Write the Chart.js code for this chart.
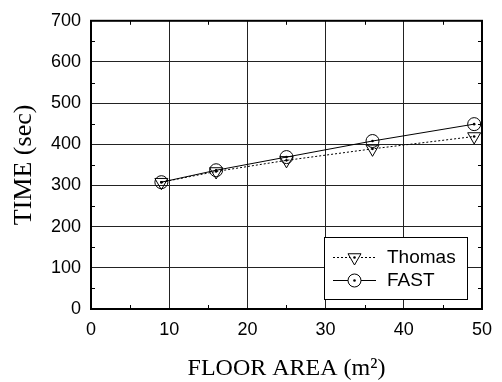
<!DOCTYPE html>
<html>
<head>
<meta charset="utf-8">
<script src="https://cdn.jsdelivr.net/npm/chart.js@4.4.0/dist/chart.umd.min.js"></script>
<style>
html,body{margin:0;padding:0;background:#fff;}
#wrap{width:502px;height:382px;position:relative;}
</style>
</head>
<body>
<div id="wrap"><canvas id="c" width="502" height="382"></canvas></div>
<script>
const floorArea = [9, 16, 25, 36, 49];
const thomasTime = [308, 334, 361, 389, 419];
const fastTime = [308, 337, 369, 408, 449];
const xTicks = [0, 10, 20, 30, 40, 50];
const yTicks = [0, 100, 200, 300, 400, 500, 600, 700];
const seriesLabels = ['Thomas', 'FAST'];

const thomasPts = floorArea.map((x, i) => ({x: x, y: thomasTime[i]}));
const fastPts = floorArea.map((x, i) => ({x: x, y: fastTime[i]}));

const decor = {
  id: 'decor',
  afterDatasetsDraw(chart) {
    const ctx = chart.ctx;
    const ca = chart.chartArea;
    const xs = chart.scales.x, ys = chart.scales.y;
    ctx.save();
    chart.data.datasets.forEach((ds, i) => {
      const meta = chart.getDatasetMeta(i);
      meta.data.forEach(el => {
        ctx.beginPath();
        ctx.fillStyle = '#000';
        ctx.arc(el.x, el.y, 1.3, 0, Math.PI * 2);
        ctx.fill();
      });
    });
    ctx.strokeStyle = '#000';
    ctx.lineWidth = 1;
    for (let v = 5; v < 50; v += 10) {
      const px = Math.round(xs.getPixelForValue(v)) + 0.5;
      ctx.beginPath();
      ctx.moveTo(px, ca.bottom); ctx.lineTo(px, ca.bottom - 4);
      ctx.moveTo(px, ca.top); ctx.lineTo(px, ca.top + 4);
      ctx.stroke();
    }
    for (let v = 50; v < 700; v += 100) {
      const py = Math.round(ys.getPixelForValue(v)) + 0.5;
      ctx.beginPath();
      ctx.moveTo(ca.left, py); ctx.lineTo(ca.left + 4, py);
      ctx.moveTo(ca.right, py); ctx.lineTo(ca.right - 4, py);
      ctx.stroke();
    }
    ctx.lineWidth = 2;
    ctx.strokeRect(ca.left, ca.top, ca.right - ca.left, ca.bottom - ca.top);
    const bx = 324.5, by = 237.5, bw = 143, bh = 62;
    ctx.lineWidth = 1;
    ctx.fillStyle = '#fff';
    ctx.fillRect(bx, by, bw, bh);
    ctx.strokeRect(bx, by, bw, bh);
    const rows = [257, 280];
    chart.data.datasets.forEach((ds, i) => {
      const yy = rows[i] + 0.5;
      ctx.beginPath();
      ctx.strokeStyle = '#000';
      ctx.lineWidth = 1;
      ctx.setLineDash(ds.borderDash || []);
      ctx.moveTo(333, yy); ctx.lineTo(376, yy);
      ctx.stroke();
      ctx.setLineDash([]);
      ctx.fillStyle = '#fff';
      Chart.helpers.drawPoint(ctx, {
        pointStyle: ds.pointStyle, radius: ds.pointRadius,
        rotation: ds.pointRotation || 0, borderWidth: 1
      }, 354.5, yy);
      ctx.beginPath();
      ctx.fillStyle = '#000';
      ctx.arc(354.5, yy, 1.3, 0, Math.PI * 2);
      ctx.fill();
      ctx.fillStyle = '#000';
      ctx.font = '19px "Liberation Sans", Arial, sans-serif';
      ctx.textBaseline = 'middle';
      ctx.textAlign = 'left';
      ctx.fillText(ds.label, 387, yy);
    });
    ctx.restore();
  }
};

new Chart(document.getElementById('c'), {
  type: 'line',
  data: {
    datasets: [
      {
        label: seriesLabels[0],
        data: thomasPts,
        borderColor: '#000',
        borderWidth: 1,
        borderDash: [2, 2],
        pointStyle: 'triangle',
        pointRotation: 180,
        pointRadius: 7.5,
        pointBorderColor: '#000',
        pointBackgroundColor: 'rgba(255,255,255,0)',
        pointBorderWidth: 1,
        tension: 0,
        fill: false
      },
      {
        label: seriesLabels[1],
        data: fastPts,
        borderColor: '#000',
        borderWidth: 1,
        pointStyle: 'circle',
        pointRadius: 6.5,
        pointBorderColor: '#000',
        pointBackgroundColor: 'rgba(255,255,255,0)',
        pointBorderWidth: 1,
        tension: 0,
        fill: false
      }
    ]
  },
  options: {
    responsive: false,
    animation: false,
    devicePixelRatio: 1,
    layout: {padding: {top: 16, right: 20, left: 0, bottom: 0}},
    plugins: {legend: {display: false}, tooltip: {enabled: false}},
    scales: {
      x: {
        type: 'linear',
        min: 0, max: 50,
        afterBuildTicks: s => { s.ticks = xTicks.map(v => ({value: v})); },
        afterFit: s => { s.height = 73; },
        grid: {color: '#222', lineWidth: 1, drawTicks: false},
        border: {display: true, color: '#000', width: 2},
        ticks: {color: '#000', padding: 10, font: {family: '"Liberation Sans", Arial, sans-serif', size: 18}, maxRotation: 0},
        title: {display: true, text: 'FLOOR AREA (m²)', color: '#000', font: {family: '"Liberation Serif", "Times New Roman", serif', size: 24, lineHeight: 1}, padding: {top: 0, bottom: 1}}
      },
      y: {
        type: 'linear',
        min: 0, max: 700,
        afterBuildTicks: s => { s.ticks = yTicks.map(v => ({value: v})); },
        afterFit: s => { s.width = 91; },
        grid: {color: '#222', lineWidth: 1, drawTicks: false},
        border: {display: true, color: '#000', width: 2},
        ticks: {color: '#000', padding: 10, font: {family: '"Liberation Sans", Arial, sans-serif', size: 18}},
        title: {display: true, text: 'TIME (sec)', color: '#000', font: {family: '"Liberation Serif", "Times New Roman", serif', size: 26, lineHeight: 1}, padding: {top: 11, bottom: 0}}
      }
    }
  },
  plugins: [decor]
});
</script>
</body>
</html>
